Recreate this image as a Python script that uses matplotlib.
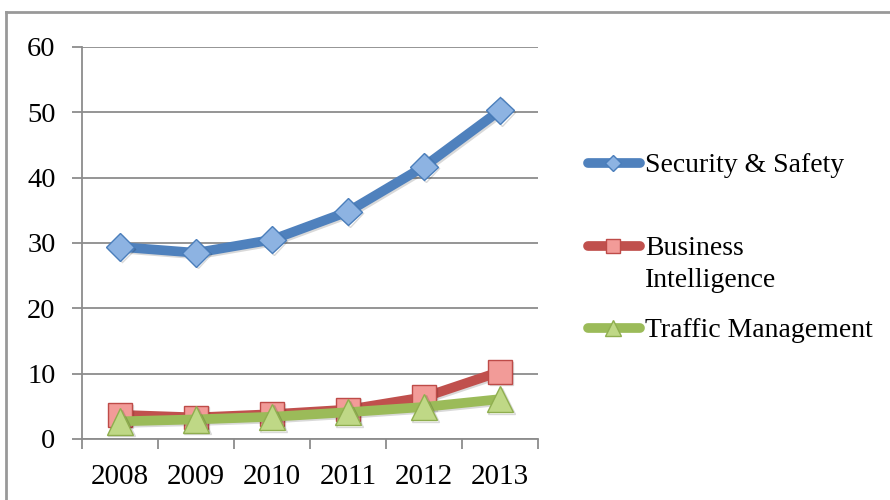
import matplotlib
matplotlib.use("Agg")
import matplotlib.pyplot as plt
import matplotlib.patheffects as pe
from matplotlib.lines import Line2D
import numpy as np

years = ["2008", "2009", "2010", "2011", "2012", "2013"]
security = [29.4, 28.5, 30.5, 34.8, 41.7, 50.3]
business = [3.7, 3.3, 3.8, 4.5, 6.4, 10.3]
traffic = [2.7, 3.0, 3.4, 4.1, 4.9, 6.1]
labels = ["Security & Safety", "Business\nIntelligence", "Traffic Management"]
yticks = [0, 10, 20, 30, 40, 50, 60]

plt.rcParams['font.family'] = ['Liberation Serif', 'DejaVu Serif']

fig = plt.figure(figsize=(8.9, 5.0), dpi=100)
ax = fig.add_axes([82/890, 1-439/500, (538-82)/890, (439-47)/500])

grey = "#8c8c8c"
styles = [
    dict(color="#4F81BD", marker="D", ms=14, mfc="#8DB3E2", mec="#4A7EBB"),
    dict(color="#C0504D", marker="s", ms=17, mfc="#F29B98", mec="#BE4B48"),
    dict(color="#9BBB59", marker="^", ms=19, mfc="#BFD886", mec="#8FAE4F"),
]
series = [security, business, traffic]

x = np.arange(len(years)) + 0.5
shadow = [pe.SimpleLineShadow(offset=(1.2, -1.2), alpha=0.15, shadow_color="k"), pe.Normal()]
for vals, st, z in zip(series, styles, [3, 4, 5]):
    ax.plot(x, vals, lw=7, solid_capstyle="round", solid_joinstyle="round",
            mew=1.0, zorder=z, path_effects=shadow, clip_on=False, **st)

ax.set_xlim(0, len(years))
ax.set_ylim(0, 60)
ax.set_yticks(yticks)
ax.set_yticklabels([str(v) for v in yticks], fontsize=20.5)
ax.set_xticks(np.arange(len(years) + 1))
ax.set_xticklabels([])
ax.set_xticks(x, minor=True)
ax.set_xticklabels(years, minor=True, fontsize=21)
ax.tick_params(axis="x", which="major", length=7, width=1.3, color=grey, direction="out")
ax.tick_params(axis="x", which="minor", length=0, pad=18)
ax.tick_params(axis="y", length=7, width=1.3, color=grey, direction="out", pad=12)
ax.yaxis.grid(True, color=grey, lw=1.3)
ax.set_axisbelow(True)
for s in ["top", "right"]:
    ax.spines[s].set_visible(False)
for s in ["left", "bottom"]:
    ax.spines[s].set_color(grey)
    ax.spines[s].set_linewidth(1.3)

# outer chart frame (top and left edges visible)
fig.add_artist(Line2D([6/890, 1.0], [1-12/500, 1-12/500], transform=fig.transFigure, color="#999999", lw=2))
fig.add_artist(Line2D([6/890, 6/890], [1-12/500, 0], transform=fig.transFigure, color="#999999", lw=2))

# legend (entries equally spaced, first text line aligned with the handle)
handle_y = [163, 246, 328]
text_base = [172, 287, 337]
for lab, st, yy, tb in zip(labels, styles, handle_y, text_base):
    yf = 1 - yy/500
    fig.add_artist(Line2D([588/890, 640/890], [yf, yf], transform=fig.transFigure,
                          color=st["color"], lw=7, solid_capstyle="round"))
    fig.add_artist(Line2D([613/890], [yf], transform=fig.transFigure, ls="none",
                          marker=st["marker"], ms=st["ms"]*0.58, mfc=st["mfc"], mec=st["mec"], mew=1.0))
    fig.text(645/890, 1 - tb/500, lab, fontsize=20, va="baseline", ha="left",
             transform=fig.transFigure, linespacing=1.36)

fig.savefig("out.png", dpi=100)
